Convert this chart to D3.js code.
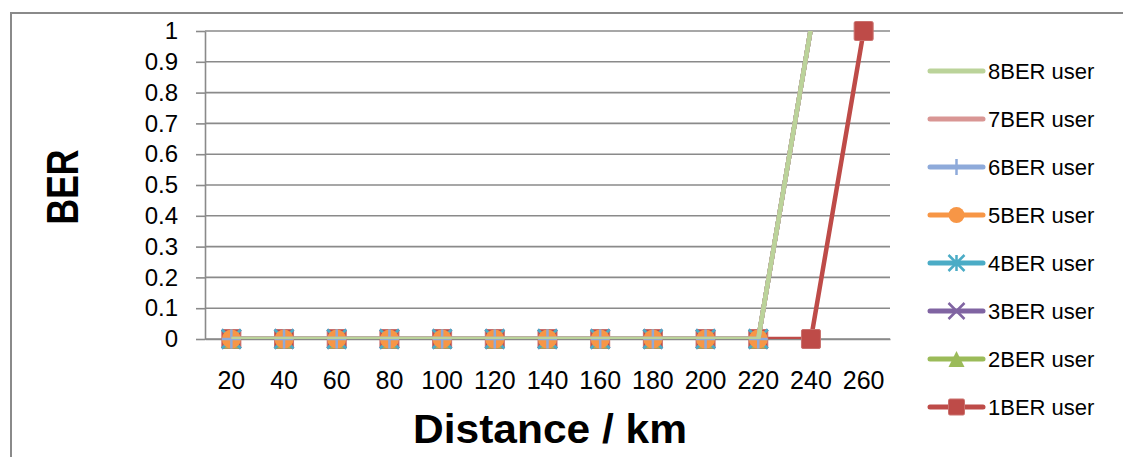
<!DOCTYPE html>
<html>
<head>
<meta charset="utf-8">
<script src="https://cdn.jsdelivr.net/npm/d3@7/dist/d3.min.js"></script>
<style>
  html, body { margin: 0; padding: 0; background: #fff; }
  svg { display: block; }
</style>
</head>
<body>
<svg id="chart" width="1123" height="457"></svg>
<script>
// Distance categories (km)
const distances = [20, 40, 60, 80, 100, 120, 140, 160, 180, 200, 220, 240, 260];

// BER per number of users; null = no measurement
const ber1 = [0, 0, 0, 0, 0, 0, 0, 0, 0, 0, 0, 0, 1];
const ber2 = [0, 0, 0, 0, 0, 0, 0, 0, 0, 0, 0, 1.01, null];
const ber3 = [0, 0, 0, 0, 0, 0, 0, 0, 0, 0, 0, 1.01, null];
const ber4 = [0, 0, 0, 0, 0, 0, 0, 0, 0, 0, 0, 1.01, null];
const ber5 = [0, 0, 0, 0, 0, 0, 0, 0, 0, 0, 0, 1.01, null];
const ber6 = [0, 0, 0, 0, 0, 0, 0, 0, 0, 0, 0, 1.01, null];
const ber7 = [0, 0, 0, 0, 0, 0, 0, 0, 0, 0, 0, 1.01, null];
const ber8 = [0, 0, 0, 0, 0, 0, 0, 0, 0, 0, 0, 1.01, null];

const seriesNames = ["1BER user", "2BER user", "3BER user", "4BER user",
                     "5BER user", "6BER user", "7BER user", "8BER user"];

// Y axis tick values and labels
const yTicks = [0, 0.1, 0.2, 0.3, 0.4, 0.5, 0.6, 0.7, 0.8, 0.9, 1];
const yTickLabels = ["0", "0.1", "0.2", "0.3", "0.4", "0.5", "0.6", "0.7", "0.8", "0.9", "1"];

const seriesValues = [ber1, ber2, ber3, ber4, ber5, ber6, ber7, ber8];
const colors = ["#BE4B48", "#9BBB59", "#8064A2", "#4BACC6", "#F79646", "#8EAADA", "#D99694", "#BBD39A"];
const markers = ["square", "triangle", "cross", "asterisk", "circle", "plus", "none", "none"];

const svg = d3.select("#chart");
const plot = { left: 205, right: 890, top: 31, bottom: 339 };

// Outer chart frame (top and left edges)
svg.append("path")
  .attr("d", "M11,457 L11,13 L1123,13")
  .attr("fill", "none").attr("stroke", "#8a8a8a").attr("stroke-width", 2);

const x = d3.scaleBand().domain(distances).range([plot.left, plot.right]).paddingInner(0).paddingOuter(0);
const xc = d => x(d) + x.bandwidth() / 2;
const y = d3.scaleLinear().domain([0, 1]).range([plot.bottom, plot.top]);

// Gridlines
svg.append("g").selectAll("line").data(yTicks).join("line")
  .attr("x1", plot.left).attr("x2", plot.right)
  .attr("y1", d => y(d)).attr("y2", d => y(d))
  .attr("stroke", "#8a8a8a").attr("stroke-width", 1.6);

// Y axis
const yAxis = svg.append("g").attr("transform", `translate(${plot.left},0)`)
  .call(d3.axisLeft(y).tickValues(yTicks).tickFormat((d, i) => yTickLabels[i])
    .tickSize(9).tickSizeOuter(0).tickPadding(18));
yAxis.select(".domain").attr("stroke", "#8a8a8a").attr("stroke-width", 1.6);
yAxis.selectAll(".tick line").attr("stroke", "#8a8a8a").attr("stroke-width", 1.6);
yAxis.selectAll("text").attr("font-family", "'Liberation Sans', Arial, sans-serif")
  .attr("font-size", 24).attr("fill", "#000");

// X axis
const xAxis = svg.append("g").attr("transform", `translate(0,${plot.bottom})`)
  .call(d3.axisBottom(x).tickSize(0).tickPadding(32));
xAxis.select(".domain").attr("stroke", "#8a8a8a").attr("stroke-width", 1.6);
xAxis.selectAll("text").attr("font-family", "'Liberation Sans', Arial, sans-serif")
  .attr("font-size", 25).attr("fill", "#000");

// Clip region for the lines
svg.append("clipPath").attr("id", "plotClip")
  .append("rect").attr("x", plot.left).attr("y", plot.top)
  .attr("width", plot.right - plot.left).attr("height", plot.bottom - plot.top);

function drawMarker(g, type, cx, cy, size, color) {
  const h = size / 2;
  if (type === "square") {
    g.append("rect").attr("x", cx - h).attr("y", cy - h).attr("width", size).attr("height", size)
      .attr("rx", 1.5).attr("fill", color).attr("stroke", "#C9706D").attr("stroke-width", 1);
  } else if (type === "circle") {
    g.append("circle").attr("cx", cx).attr("cy", cy).attr("r", h).attr("fill", color);
  } else if (type === "triangle") {
    g.append("path").attr("d", `M${cx},${cy - h} L${cx + h},${cy + h} L${cx - h},${cy + h} Z`).attr("fill", color);
  } else if (type === "cross") {
    g.append("path").attr("d", `M${cx - h},${cy - h} L${cx + h},${cy + h} M${cx - h},${cy + h} L${cx + h},${cy - h}`)
      .attr("stroke", color).attr("stroke-width", 2.5);
  } else if (type === "asterisk") {
    g.append("path").attr("d", `M${cx - h},${cy - h} L${cx + h},${cy + h} M${cx - h},${cy + h} L${cx + h},${cy - h} M${cx},${cy - h} L${cx},${cy + h}`)
      .attr("stroke", color).attr("stroke-width", 2.5);
  } else if (type === "plus") {
    g.append("path").attr("d", `M${cx - h},${cy} L${cx + h},${cy} M${cx},${cy - h} L${cx},${cy + h}`)
      .attr("stroke", color).attr("stroke-width", 2.5);
  }
}

// Series, drawn from 1 to 8 so later ones sit on top
const line = d3.line()
  .defined(d => d.v !== null)
  .x(d => xc(d.d)).y(d => y(d.v));

seriesValues.forEach((vals, i) => {
  const pts = distances.map((d, j) => ({ d, v: vals[j] }));
  const g = svg.append("g");
  g.append("path").datum(pts)
    .attr("clip-path", "url(#plotClip)")
    .attr("d", line)
    .attr("fill", "none").attr("stroke", colors[i]).attr("stroke-width", 4.5)
    .attr("stroke-linejoin", "round");
  if (markers[i] !== "none") {
    pts.filter(p => p.v !== null && p.v <= 1).forEach(p => {
      drawMarker(g, markers[i], xc(p.d), y(p.v), 19, colors[i]);
    });
  }
});

// Legend, listed from 8 down to 1
const legend = svg.append("g");
const order = d3.range(seriesNames.length).reverse();
order.forEach((si, row) => {
  const ly = 71 + row * 48;
  const g = legend.append("g");
  g.append("line").attr("x1", 930).attr("x2", 983).attr("y1", ly).attr("y2", ly)
    .attr("stroke", colors[si]).attr("stroke-width", 5).attr("stroke-linecap", "round");
  if (markers[si] !== "none") drawMarker(g, markers[si], 956.5, ly, 16, colors[si]);
  g.append("text").attr("x", 988).attr("y", ly + 8)
    .attr("font-family", "'Liberation Sans', Arial, sans-serif")
    .attr("font-size", 22).attr("fill", "#000").text(seriesNames[si]);
});

// Axis titles
svg.append("text")
  .attr("transform", "translate(78,187) rotate(-90)")
  .attr("text-anchor", "middle")
  .attr("font-family", "'Liberation Sans', Arial, sans-serif")
  .attr("font-weight", "bold").attr("font-size", 44)
  .attr("textLength", 75).attr("lengthAdjust", "spacingAndGlyphs")
  .text("BER");

svg.append("text")
  .attr("x", 550).attr("y", 443)
  .attr("text-anchor", "middle")
  .attr("font-family", "'Liberation Sans', Arial, sans-serif")
  .attr("font-weight", "bold").attr("font-size", 40)
  .attr("textLength", 274).attr("lengthAdjust", "spacingAndGlyphs")
  .text("Distance / km");
</script>
</body>
</html>
